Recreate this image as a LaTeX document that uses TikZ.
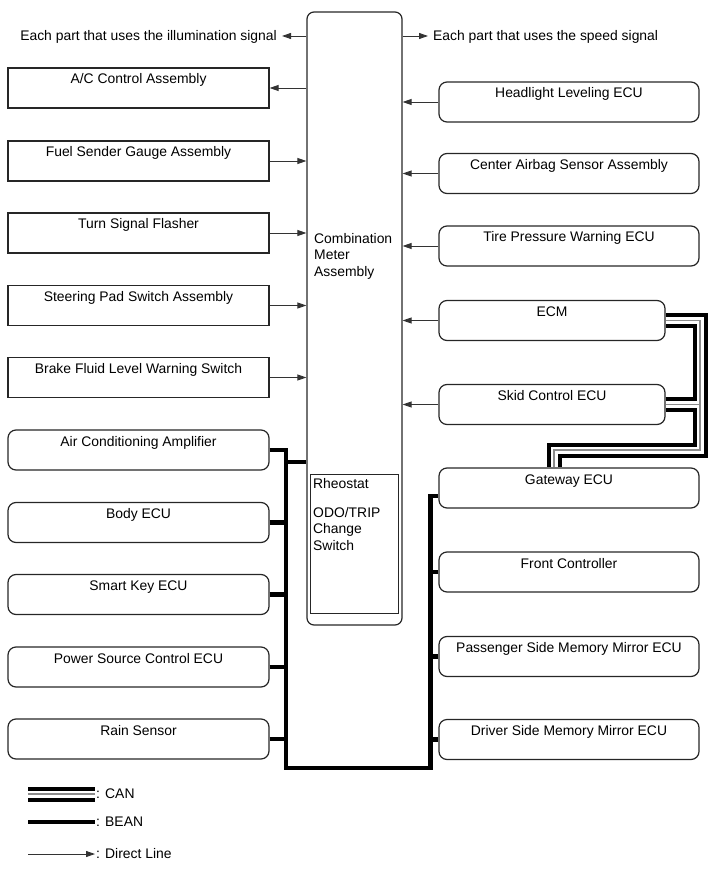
\documentclass[tikz,border=0pt]{standalone}
\usepackage{fontspec}
\setmainfont{Liberation Sans}
\usetikzlibrary{arrows.meta}

\begin{document}
\begin{tikzpicture}[x=1pt, y=-1pt,
  font=\fontsize{13.9}{16.7}\selectfont,
  box/.style={draw=black!85, line width=1.2pt, minimum width=261pt, minimum height=40pt, inner xsep=0pt, inner ysep=0pt, text height=16pt, text depth=24pt},
  rbox/.style={box, rounded corners=8pt},
  note/.style={inner xsep=5pt, inner ysep=0pt, text height=11pt, text depth=2pt},
  dline/.style={draw=black!80, line width=0.9pt, -{Triangle[length=9pt,width=6pt]}},
  bean/.style={line width=4.5pt},
  can/.style={draw=white, line width=7pt, preaction={draw=black, line width=15pt}, postaction={draw=black!45, line width=1.5pt}}]
\useasboundingbox (0,0) rectangle (713,882);
\node[draw=black!85, line width=1.2pt, rounded corners=7pt, minimum width=95pt, minimum height=613pt] (meter) at (354.5,318.5){};
\node[draw=black!85, line width=1pt, minimum width=88pt, minimum height=139pt] (rheo) at (354,543.5){};
\node[anchor=north west, inner sep=0pt, align=left] (metertxt) at (314,233){Combination\\Meter\\Assembly};
\node[anchor=north west, inner sep=0pt, align=left] (rheotxt) at (313,478){Rheostat\\[12.3pt]ODO/TRIP\\Change\\Switch};
\node[note, anchor=east] (illum) at (282,36){Each part that uses the illumination signal};
\node[note, anchor=west] (speed) at (428,36){Each part that uses the speed signal};
\draw[dline] (meter.west |- illum) -- (illum.east);
\draw[dline] (meter.east |- speed) -- (speed.west);
\node[box] (lu0) at (138.5,88){A/C Control Assembly};
\node[box] (lu1) at (138.5,161){Fuel Sender Gauge Assembly};
\node[box] (lu2) at (138.5,233){Turn Signal Flasher};
\node[box] (lu3) at (138.5,305.5){Steering Pad Switch Assembly};
\node[box] (lu4) at (138.5,377.5){Brake Fluid Level Warning Switch};
\node[rbox] (lu5) at (138.5,450){Air Conditioning Amplifier};
\node[rbox] (lu6) at (138.5,522.5){Body ECU};
\node[rbox] (lu7) at (138.5,594.5){Smart Key ECU};
\node[rbox] (lu8) at (138.5,667){Power Source Control ECU};
\node[rbox] (lu9) at (138.5,739){Rain Sensor};
\draw[dline] (meter.west |- lu0) -- (lu0.east);
\draw[dline] (lu1.east) -- (lu1 -| meter.west);
\draw[dline] (lu2.east) -- (lu2 -| meter.west);
\draw[dline] (lu3.east) -- (lu3 -| meter.west);
\draw[dline] (lu4.east) -- (lu4 -| meter.west);
\node[rbox, minimum width=260pt] (ru0) at (569,102){Headlight Leveling ECU};
\node[rbox, minimum width=260pt] (ru1) at (569,173.5){Center Airbag Sensor Assembly};
\node[rbox, minimum width=260pt] (ru2) at (569,246){Tire Pressure Warning ECU};
\node[rbox, minimum width=226pt] (ru3) at (552,320.5){ECM};
\node[rbox, minimum width=226pt] (ru4) at (552,404.5){Skid Control ECU};
\node[rbox, minimum width=260pt] (ru5) at (569,488){Gateway ECU};
\node[rbox, minimum width=260pt] (ru6) at (569,572){Front Controller};
\node[rbox, minimum width=260pt] (ru7) at (569,656.5){Passenger Side Memory Mirror ECU};
\node[rbox, minimum width=260pt] (ru8) at (569,739.5){Driver Side Memory Mirror ECU};
\draw[dline] (ru0.west) -- (ru0 -| meter.east);
\draw[dline] (ru1.west) -- (ru1 -| meter.east);
\draw[dline] (ru2.west) -- (ru2 -| meter.east);
\draw[dline] (ru3.west) -- (ru3 -| meter.east);
\draw[dline] (ru4.west) -- (ru4 -| meter.east);
\coordinate (bean0) at (286,768);
\coordinate (bean1) at (430.5,768);
\coordinate (bean2) at (286,462);
\draw[bean] (lu5.east) -| (bean0) -- (bean1) |- ([yshift=-8pt]ru5.west);
\draw[bean] (lu6.east) -- (lu6.east -| bean0);
\draw[bean] (lu7.east) -- (lu7.east -| bean0);
\draw[bean] (lu8.east) -- (lu8.east -| bean0);
\draw[bean] (lu9.east) -- (lu9.east -| bean0);
\draw[bean] (bean2) -- (bean2 -| meter.west);
\draw[bean] (ru6.west) -- (ru6.west -| bean1);
\draw[bean] (ru7.west) -- (ru7.west -| bean1);
\draw[bean] (ru8.west) -- (ru8.west -| bean1);
\coordinate (can0) at (700,450);
\coordinate (can1) at (554,450);
\draw[can] (ru3.east) -| (can0) -- (can1) -- (can1 |- ru5.north) (ru4.east) -- (ru4.east -| can0);
\node[inner sep=1pt, anchor=west] (lgcan) at (95,794){: CAN};
\node[inner sep=1pt, anchor=west] (lgbean) at (95,822){: BEAN};
\node[inner sep=1pt, anchor=west] (lgdir) at (95,854){: Direct Line};
\coordinate (lc0) at (28,794);
\coordinate (lb0) at (28,822);
\coordinate (ld0) at (28,854);
\draw[can] (lc0) -- (lgcan.west);
\draw[bean] (lb0) -- (lgbean.west);
\draw[dline] (ld0) -- (lgdir.west);
\end{tikzpicture}
\end{document}
